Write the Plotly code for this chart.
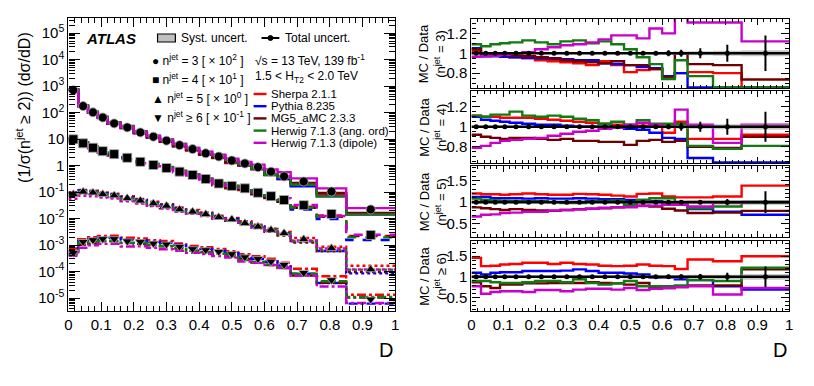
import numpy as np
import plotly.graph_objects as go

# ---------------- data ----------------
EDGES = [0, 0.03, 0.06, 0.09, 0.12, 0.16, 0.20, 0.24, 0.28, 0.32, 0.36, 0.40,
         0.44, 0.48, 0.52, 0.56, 0.60, 0.64, 0.68, 0.76, 0.85, 1.0]

# measured (scaled) distributions, as displayed
DATA_N3 = [700, 176, 102, 65, 39, 27.5, 17.8, 12.3, 8.7, 5.9, 4.2, 2.9, 2.2, 1.55,
           1.2, 0.87, 0.59, 0.39, 0.25, 0.105, 0.022]
DATA_N4 = [9.8, 6.9, 4.7, 3.5, 2.7, 1.96, 1.38, 1.05, 0.81, 0.59, 0.44, 0.31, 0.21,
           0.17, 0.138, 0.094, 0.07, 0.05, 0.032, 0.0148, 0.0024]
DATA_N5 = [0.083, 0.102, 0.095, 0.083, 0.074, 0.058, 0.047, 0.037, 0.030, 0.022,
           0.018, 0.0145, 0.0112, 0.0093, 0.0066, 0.0049, 0.0037, 0.0028, 0.00165,
           0.00076, 0.00012]
DATA_N6 = [0.00051, 0.00133, 0.00155, 0.0017, 0.0017, 0.0014, 0.00132, 0.00115,
           0.00106, 0.00087, 0.00071, 0.00065, 0.00056, 0.00046, 0.00035, 0.0003,
           0.00024, 0.00018, 0.00009, 0.000048, 0.0000089]

# MC / Data ratios
SHERPA_N3 = [1.02, 1.00, 0.98, 0.97, 0.96, 0.95, 0.93, 0.92, 0.91, 0.90, 0.88, 0.92, 0.88, 0.81, 0.83, 0.84, 0.75, 0.80, 0.81, 0.80, 0.655]
PYTHIA_N3 = [1.05, 0.97, 0.97, 0.965, 0.96, 0.955, 0.95, 0.945, 0.94, 0.93, 0.93, 0.90, 0.89, 0.88, 0.86, 0.85, 0.77, 0.80, 0.655, 0.655, 0.655]
MG5_N3 = [1.04, 1.00, 0.99, 0.98, 0.975, 0.97, 0.96, 0.95, 0.93, 0.92, 0.91, 0.90, 0.92, 0.88, 0.88, 0.84, 0.76, 1.00, 0.89, 0.88, 0.735]
HWANG_N3 = [1.09, 1.07, 1.09, 1.10, 1.11, 1.13, 1.11, 1.09, 1.12, 1.13, 1.10, 1.12, 1.09, 1.04, 0.96, 0.89, 0.74, 0.93, 0.77, 0.655, 0.655]
HWDIP_N3 = [0.965, 0.97, 0.975, 0.985, 1.00, 1.01, 1.04, 1.06, 1.08, 1.09, 1.11, 1.14, 1.18, 1.18, 1.15, 1.25, 1.20, 1.45, 1.31, 1.31, 1.12]

SHERPA_N4 = [1.11, 1.10, 1.10, 1.09, 1.09, 1.09, 1.08, 1.07, 1.06, 1.05, 1.04, 1.03, 1.02, 1.01, 1.01, 1.00, 0.94, 1.05, 0.88, 0.88, 0.92]
PYTHIA_N4 = [1.10, 1.07, 1.06, 1.05, 1.04, 1.03, 1.02, 1.02, 1.01, 1.00, 1.00, 1.00, 0.99, 0.98, 0.97, 0.94, 0.89, 0.88, 0.69, 0.645, 0.645]
MG5_N4 = [0.92, 0.90, 0.89, 0.88, 0.89, 0.89, 0.88, 0.87, 0.88, 0.86, 0.86, 0.85, 0.85, 0.82, 0.86, 0.87, 0.85, 0.86, 0.80, 0.79, 0.90]
HWANG_N4 = [1.11, 1.10, 1.12, 1.12, 1.15, 1.11, 1.10, 1.11, 1.10, 1.08, 1.065, 1.03, 1.05, 1.02, 1.065, 1.03, 1.03, 1.03, 0.81, 0.78, 0.81]
HWDIP_N4 = [0.79, 0.81, 0.84, 0.86, 0.87, 0.88, 0.89, 0.91, 0.93, 0.95, 0.96, 0.98, 0.99, 1.02, 1.04, 1.02, 1.00, 1.17, 1.02, 0.84, 1.02]

SHERPA_N5 = [1.20, 1.18, 1.18, 1.17, 1.18, 1.20, 1.18, 1.17, 1.17, 1.19, 1.18, 1.17, 1.15, 1.13, 1.19, 1.20, 1.13, 1.11, 1.11, 1.13, 1.38]
PYTHIA_N5 = [1.12, 1.12, 1.09, 1.09, 1.09, 1.08, 1.09, 1.08, 1.08, 1.09, 1.08, 1.07, 1.07, 1.05, 1.05, 1.02, 0.99, 0.99, 0.84, 0.78, 0.71]
MG5_N5 = [0.88, 0.86, 0.84, 0.82, 0.84, 0.82, 0.81, 0.80, 0.82, 0.84, 0.85, 0.86, 0.88, 0.89, 0.92, 0.90, 0.85, 0.81, 0.75, 0.76, 0.80]
HWANG_N5 = [1.08, 1.05, 1.04, 1.03, 1.02, 1.02, 1.02, 1.00, 0.98, 0.98, 1.02, 1.03, 1.04, 0.94, 1.05, 1.09, 1.09, 0.95, 0.86, 0.90, 0.98]
HWDIP_N5 = [0.67, 0.71, 0.72, 0.75, 0.76, 0.78, 0.78, 0.81, 0.82, 0.83, 0.85, 0.87, 0.88, 0.89, 0.91, 0.92, 0.94, 0.94, 0.90, 0.98, 1.00]

SHERPA_N6 = [1.46, 1.26, 1.27, 1.30, 1.31, 1.34, 1.34, 1.31, 1.34, 1.31, 1.30, 1.27, 1.26, 1.27, 1.30, 1.27, 1.26, 1.19, 1.42, 1.38, 1.50]
PYTHIA_N6 = [1.10, 1.06, 1.10, 1.11, 1.11, 1.14, 1.14, 1.14, 1.15, 1.18, 1.14, 1.10, 1.10, 1.08, 1.06, 0.98, 0.98, 0.94, 0.92, 0.77, 0.69]
MG5_N6 = [0.87, 0.77, 0.73, 0.81, 0.81, 0.84, 0.84, 0.85, 0.85, 0.85, 0.87, 0.85, 0.84, 0.81, 0.85, 0.73, 0.73, 0.75, 0.79, 0.79, 1.18]
HWANG_N6 = [0.90, 0.90, 0.87, 0.85, 0.85, 0.87, 0.90, 0.90, 0.87, 0.94, 0.85, 0.81, 0.84, 0.90, 0.77, 0.77, 0.77, 0.79, 0.92, 0.90, 1.22]
HWDIP_N6 = [0.77, 0.59, 0.63, 0.65, 0.65, 0.63, 0.68, 0.68, 0.65, 0.69, 0.71, 0.71, 0.69, 0.73, 0.68, 0.71, 0.73, 0.75, 0.77, 0.57, 0.73]

# relative uncertainties (total, systematic)
TOT_N3 = [0.01, 0.006, 0.006, 0.006, 0.006, 0.006, 0.006, 0.006, 0.006, 0.006, 0.007, 0.008, 0.009, 0.012, 0.015, 0.02, 0.03, 0.035, 0.05, 0.085, 0.18]
TOT_N4 = [0.01, 0.006, 0.006, 0.006, 0.006, 0.006, 0.006, 0.006, 0.006, 0.007, 0.008, 0.009, 0.01, 0.013, 0.016, 0.02, 0.025, 0.04, 0.05, 0.08, 0.15]
TOT_N5 = [0.03, 0.02, 0.02, 0.02, 0.02, 0.02, 0.02, 0.02, 0.02, 0.02, 0.02, 0.02, 0.025, 0.03, 0.03, 0.035, 0.04, 0.05, 0.05, 0.07, 0.25]
TOT_N6 = [0.04, 0.03, 0.03, 0.03, 0.03, 0.03, 0.03, 0.03, 0.03, 0.03, 0.03, 0.03, 0.035, 0.04, 0.04, 0.045, 0.05, 0.06, 0.07, 0.10, 0.25]
SYST_N3 = [0.008, 0.005, 0.005, 0.005, 0.005, 0.005, 0.005, 0.005, 0.005, 0.005, 0.005, 0.006, 0.006, 0.008, 0.01, 0.012, 0.015, 0.018, 0.02, 0.025, 0.03]
SYST_N4 = [0.008, 0.005, 0.005, 0.005, 0.005, 0.005, 0.005, 0.005, 0.005, 0.005, 0.006, 0.006, 0.007, 0.008, 0.01, 0.012, 0.015, 0.018, 0.02, 0.025, 0.03]
SYST_N5 = [0.03, 0.025, 0.025, 0.025, 0.025, 0.025, 0.025, 0.025, 0.025, 0.025, 0.025, 0.025, 0.025, 0.03, 0.03, 0.03, 0.035, 0.035, 0.04, 0.04, 0.05]
SYST_N6 = [0.04, 0.035, 0.035, 0.035, 0.035, 0.035, 0.035, 0.035, 0.035, 0.035, 0.035, 0.035, 0.035, 0.04, 0.04, 0.04, 0.045, 0.045, 0.05, 0.05, 0.07]

GENERATORS = ["Sherpa 2.1.1", "Pythia 8.235", "MG5_aMC 2.3.3",
              "Herwig 7.1.3 (ang. ord)", "Herwig 7.1.3 (dipole)"]
GEN_COLORS = ["#ff0000", "#0000ff", "#6e0000", "#117a11", "#cc00cc"]

NJET_LABELS = ["n<sup>jet</sup> = 3 [ × 10<sup>2</sup> ]",
               "n<sup>jet</sup> = 4 [ × 10<sup>1</sup> ]",
               "n<sup>jet</sup> = 5 [ × 10<sup>0</sup> ]",
               "n<sup>jet</sup> ≥ 6 [ × 10<sup>-1</sup> ]"]
NJET_SYMBOLS = ["●", "■", "▲", "▼"]
RATIO_TITLES = ["MC / Data<br>(n<sup>jet</sup> = 3)", "MC / Data<br>(n<sup>jet</sup> = 4)",
                "MC / Data<br>(n<sup>jet</sup> = 5)", "MC / Data<br>(n<sup>jet</sup> ≥ 6)"]

X_TICKS = [0, 0.1, 0.2, 0.3, 0.4, 0.5, 0.6, 0.7, 0.8, 0.9, 1.0]
X_TICKTEXT = ["0", "0.1", "0.2", "0.3", "0.4", "0.5", "0.6", "0.7", "0.8", "0.9", "1"]
Y_EXP = [-5, -4, -3, -2, -1, 0, 1, 2, 3, 4, 5]
Y_TICKTEXT = ["10<sup>-5</sup>", "10<sup>-4</sup>", "10<sup>-3</sup>", "10<sup>-2</sup>",
              "10<sup>-1</sup>", "1", "10", "10<sup>2</sup>", "10<sup>3</sup>",
              "10<sup>4</sup>", "10<sup>5</sup>"]

DATA = [DATA_N3, DATA_N4, DATA_N5, DATA_N6]
RATIOS = [[SHERPA_N3, PYTHIA_N3, MG5_N3, HWANG_N3, HWDIP_N3],
          [SHERPA_N4, PYTHIA_N4, MG5_N4, HWANG_N4, HWDIP_N4],
          [SHERPA_N5, PYTHIA_N5, MG5_N5, HWANG_N5, HWDIP_N5],
          [SHERPA_N6, PYTHIA_N6, MG5_N6, HWANG_N6, HWDIP_N6]]
TOT = [TOT_N3, TOT_N4, TOT_N5, TOT_N6]
SYST = [SYST_N3, SYST_N4, SYST_N5, SYST_N6]

# ---------------- styling ----------------
W, H = 814, 386
OFF = 8  # page body margin of the browser
FONT = "Liberation Sans, Arial, Helvetica, sans-serif"
DASHES = ["solid", "dash", "dot", "dashdot"]
MARKERS = ["circle", "square", "triangle-up", "triangle-down"]


def px(x):
    return (x - OFF) / W


def py(y):
    return 1 - (y - OFF) / H


edges = np.array(EDGES)
centers = 0.5 * (edges[:-1] + edges[1:])


def step_y(v):
    v = list(v)
    return v + [v[-1]]


fig = go.Figure()

# main panel: MC predictions
for j in range(4):
    d = np.array(DATA[j])
    for g in range(5):
        mc = d * np.array(RATIOS[j][g])
        fig.add_trace(go.Scatter(x=edges, y=step_y(mc), mode="lines", line_shape="hv",
                                 line=dict(color=GEN_COLORS[g], width=2.4, dash=DASHES[j]),
                                 xaxis="x", yaxis="y", showlegend=False, hoverinfo="skip"))
# main panel: data
for j in range(4):
    fig.add_trace(go.Scatter(x=centers, y=DATA[j], mode="markers",
                             marker=dict(symbol=MARKERS[j], color="black", size=9,
                                         line=dict(color="#aaaaaa", width=0.8)),
                             xaxis="x", yaxis="y", showlegend=False))

# ratio panels
ratio_axes = [("x2", "y2"), ("x3", "y3"), ("x4", "y4"), ("x5", "y5")]
for j, (xa, ya) in enumerate(ratio_axes):
    for g in range(5):
        fig.add_trace(go.Scatter(x=edges, y=step_y(RATIOS[j][g]), mode="lines", line_shape="hv",
                                 line=dict(color=GEN_COLORS[g], width=2.4),
                                 xaxis=xa, yaxis=ya, showlegend=False, hoverinfo="skip"))
    s = np.array(SYST[j])
    fig.add_trace(go.Scatter(x=edges, y=step_y(1 - s), mode="lines", line_shape="hv",
                             line=dict(width=0, color="#b8b8b8"),
                             xaxis=xa, yaxis=ya, showlegend=False, hoverinfo="skip"))
    fig.add_trace(go.Scatter(x=edges, y=step_y(1 + s), mode="lines", line_shape="hv",
                             line=dict(width=0, color="#b8b8b8"), fill="tonexty",
                             fillcolor="rgba(160,160,160,0.6)",
                             xaxis=xa, yaxis=ya, showlegend=False, hoverinfo="skip"))
    fig.add_trace(go.Scatter(x=[0, 1], y=[1, 1], mode="lines",
                             line=dict(color="black", width=2.6),
                             xaxis=xa, yaxis=ya, showlegend=False, hoverinfo="skip"))
    fig.add_trace(go.Scatter(x=centers, y=[1] * len(centers), mode="markers",
                             marker=dict(symbol="circle", color="black", size=5),
                             error_y=dict(type="data", array=TOT[j], color="black",
                                          thickness=2, width=0),
                             xaxis=xa, yaxis=ya, showlegend=False))

# ---------------- axes ----------------
axis_common = dict(showline=True, linecolor="black", linewidth=1.4, mirror="allticks",
                   ticks="inside", tickcolor="black", showgrid=False, zeroline=False,
                   tickfont=dict(family=FONT, size=15, color="black"))

main_dom_x = [px(65), px(395)]
ratio_dom_x = [px(472), px(793)]

fig.update_layout(
    xaxis=dict(domain=main_dom_x, range=[0, 1], anchor="y", tickvals=X_TICKS,
               ticktext=X_TICKTEXT, ticklen=9, tickwidth=1.2,
               minor=dict(dtick=0.02, ticklen=5, ticks="inside", tickcolor="black", showgrid=False),
               **axis_common),
    yaxis=dict(domain=[py(311), py(18)], type="log", range=[-5.49, 5.57], anchor="x",
               tickvals=[10.0 ** e for e in Y_EXP], ticktext=Y_TICKTEXT, ticklen=11, tickwidth=1.2,
               minor=dict(tickvals=[m * 10.0 ** e for e in range(-6, 6) for m in range(2, 10)],
                          ticklen=6, ticks="inside", tickcolor="black", showgrid=False),
               **axis_common),
)

ratio_doms = [[py(88), py(19)], [py(163), py(91)], [py(237), py(166)], [py(311), py(241)]]
ratio_ranges = [[0.65, 1.345], [0.64, 1.355], [0.2, 1.83], [0.17, 1.87]]
ratio_tv = [[0.8, 1, 1.2], [0.8, 1, 1.2], [0.5, 1, 1.5], [0.5, 1, 1.5]]
ratio_tt = [["0.8", "1", "1.2"], ["0.8", "1", "1.2"], ["0.5", "1", "1.5"], ["0.5", "1", "1.5"]]
ratio_minor = [0.05, 0.05, 0.1, 0.1]
for j in range(4):
    xn = "xaxis%d" % (j + 2)
    yn = "yaxis%d" % (j + 2)
    last = j == 3
    xdict = dict(domain=ratio_dom_x, range=[0, 1], anchor="y%d" % (j + 2),
                 tickvals=X_TICKS, showticklabels=last, ticklen=6, tickwidth=1.2,
                 minor=dict(dtick=0.02, ticklen=3, ticks="inside", tickcolor="black", showgrid=False),
                 **axis_common)
    if last:
        xdict["ticktext"] = X_TICKTEXT
    fig.update_layout(**{
        xn: xdict,
        yn: dict(domain=ratio_doms[j], range=ratio_ranges[j], anchor="x%d" % (j + 2),
                 tickvals=ratio_tv[j], ticktext=ratio_tt[j], ticklen=8, tickwidth=1.2,
                 minor=dict(dtick=ratio_minor[j], ticklen=4, ticks="inside", tickcolor="black",
                            showgrid=False),
                 **axis_common),
    })

# ---------------- texts / legend ----------------
ann = []
shapes = []


def text(t, x, y, size=12, xanchor="left", angle=0):
    ann.append(dict(text=t, x=px(x), y=py(y), xref="paper", yref="paper", xanchor=xanchor,
                    yanchor="middle", showarrow=False, textangle=angle,
                    font=dict(family=FONT, size=size, color="black")))


text("(1/σ(n<sup>jet</sup> ≥ 2)) (dσ/dD)", 19, 107, size=16, xanchor="center", angle=-90)
ratio_mid_px = [53.5, 127, 201.5, 276]
for j in range(4):
    text(RATIO_TITLES[j], 433, ratio_mid_px[j], size=13, xanchor="center", angle=-90)
text("D", 395, 350, size=20, xanchor="right")
text("D", 793, 350, size=20, xanchor="right")

text("<b><i>ATLAS</i></b>", 81, 38, size=15)
# syst uncert legend
shapes.append(dict(type="rect", xref="paper", yref="paper", x0=px(155), x1=px(173),
                   y0=py(42), y1=py(34), fillcolor="#c0c0c0", line=dict(color="black", width=1.2)))
text("Syst. uncert.", 177, 38)
# total uncert legend
shapes.append(dict(type="line", xref="paper", yref="paper", x0=px(260), x1=px(278),
                   y0=py(38), y1=py(38), line=dict(color="black", width=2)))
shapes.append(dict(type="circle", xref="paper", yref="paper", x0=px(266.5), x1=px(271.5),
                   y0=py(40.5), y1=py(35.5), fillcolor="black", line=dict(color="black", width=1)))
text("Total uncert.", 282, 38)

rows_left = [60, 79, 98, 117]
for j in range(4):
    text(NJET_SYMBOLS[j] + " " + NJET_LABELS[j], 147, rows_left[j])
text("√s = 13 TeV, 139 fb<sup>-1</sup>", 251, 60)
text("1.5 &lt; H<sub>T2</sub> &lt; 2.0 TeV", 251, 77)
for g in range(5):
    yy = 94 + 12.2 * g
    shapes.append(dict(type="line", xref="paper", yref="paper", x0=px(252), x1=px(265),
                       y0=py(yy), y1=py(yy), line=dict(color=GEN_COLORS[g], width=2.4)))
    text(GENERATORS[g], 268, yy, size=11.5)

fig.update_layout(width=W, height=H, margin=dict(l=0, r=0, t=0, b=0),
                  paper_bgcolor="white", plot_bgcolor="white", showlegend=False,
                  annotations=ann, shapes=shapes,
                  font=dict(family=FONT, color="black"))

fig.write_html("out.html")
